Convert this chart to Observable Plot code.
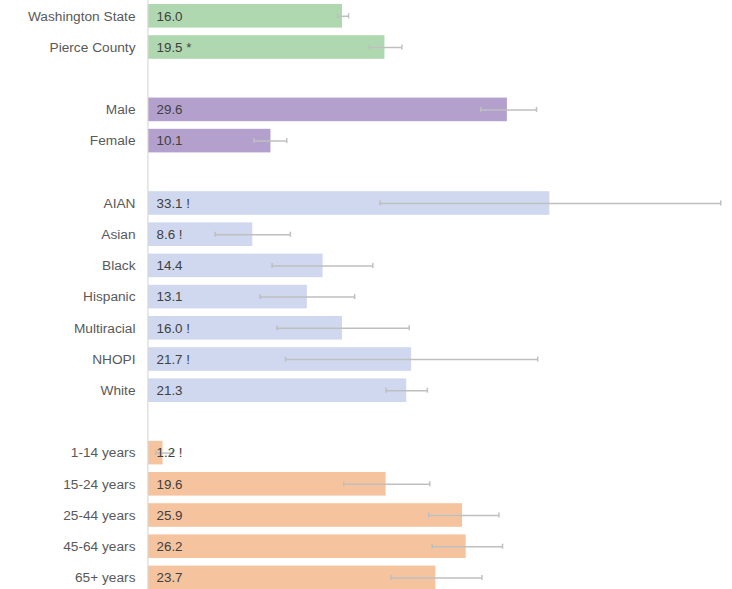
<!DOCTYPE html>
<html>
<head>
<meta charset="utf-8">
<script src="https://cdn.jsdelivr.net/npm/d3@7"></script>
<script src="https://cdn.jsdelivr.net/npm/@observablehq/plot@0.6"></script>
<style>
  html, body { margin: 0; padding: 0; background: #fff; overflow: hidden; }
  #chart svg { display: block; }
</style>
</head>
<body>
<div id="chart"></div>
<script>
// ---- Data ----
const overallLabels = ["Washington State", "Pierce County"];
const overallValues = [16.0, 19.5];
const overallLow    = [15.6, 18.2];
const overallHigh   = [16.5, 20.9];
const overallNotes  = ["", "*"];

const sexLabels = ["Male", "Female"];
const sexValues = [29.6, 10.1];
const sexLow    = [27.4, 8.7];
const sexHigh   = [32.0, 11.4];
const sexNotes  = ["", ""];

const raceLabels = ["AIAN", "Asian", "Black", "Hispanic", "Multiracial", "NHOPI", "White"];
const raceValues = [33.1, 8.6, 14.4, 13.1, 16.0, 21.7, 21.3];
const raceLow    = [19.1, 5.5, 10.2, 9.2, 10.6, 11.3, 19.6];
const raceHigh   = [47.2, 11.7, 18.5, 17.0, 21.5, 32.1, 23.0];
const raceNotes  = ["!", "!", "", "", "!", "!", ""];

const ageLabels = ["1-14 years", "15-24 years", "25-44 years", "45-64 years", "65+ years"];
const ageValues = [1.2, 19.6, 25.9, 26.2, 23.7];
const ageLow    = [0.6, 16.1, 23.1, 23.4, 20.0];
const ageHigh   = [2.0, 23.2, 28.9, 29.2, 27.5];
const ageNotes  = ["!", "", "", "", ""];

const groupColors = ["#b0d8b0", "#b4a0cc", "#cfd8ee", "#f5c49f"];

// ---- Build table ----
const groups = [
  [overallLabels, overallValues, overallLow, overallHigh, overallNotes],
  [sexLabels, sexValues, sexLow, sexHigh, sexNotes],
  [raceLabels, raceValues, raceLow, raceHigh, raceNotes],
  [ageLabels, ageValues, ageLow, ageHigh, ageNotes]
];
const rows = [];
const domain = [];
groups.forEach(([labels, vals, lo, hi, notes], g) => {
  if (g > 0) domain.push("gap" + g);
  labels.forEach((l, i) => {
    domain.push(l);
    rows.push({label: l, value: vals[i], lo: lo[i], hi: hi[i], note: notes[i], color: groupColors[g]});
  });
});

const font = "'Liberation Sans', Arial, sans-serif";

const chart = Plot.plot({
  width: 732,
  height: 593,
  marginLeft: 148,
  marginRight: 2,
  marginTop: 0.2,
  marginBottom: 0,
  style: {fontFamily: font, background: "#fff"},
  x: {domain: [0, 48], axis: null},
  y: {
    domain,
    paddingInner: 0.2436,
    paddingOuter: 0.1218,
    round: false,
    tickSize: 0,
    tickPadding: 13,
    tickFormat: d => d.startsWith("gap") ? "" : d,
    label: null
  },
  marks: [
    Plot.barX(rows, {y: "label", x: "value", fill: "color"}),
    Plot.ruleY(rows, {y: "label", x1: "lo", x2: "hi", stroke: "#bfbfbf", strokeWidth: 1.5}),
    Plot.tickX(rows, {y: "label", x: "lo", stroke: "#bfbfbf", strokeWidth: 1.5, insetTop: 9.3, insetBottom: 9.3}),
    Plot.tickX(rows, {y: "label", x: "hi", stroke: "#bfbfbf", strokeWidth: 1.5, insetTop: 9.3, insetBottom: 9.3}),
    Plot.text(rows, {
      y: "label", x: 0, dx: 8, textAnchor: "start",
      text: d => d.value.toFixed(1) + (d.note ? " " + d.note : ""),
      fill: "#404040", fontSize: 13.4
    }),
    Plot.ruleX([0], {stroke: "#d9d9d9", strokeWidth: 1.2, dx: -0.6})
  ]
});

const yAxis = chart.querySelector("g[aria-label='y-axis tick label']");
if (yAxis) { yAxis.setAttribute("font-size", "13.7"); yAxis.setAttribute("fill", "#595959"); }

document.getElementById("chart").appendChild(chart);
</script>
</body>
</html>
